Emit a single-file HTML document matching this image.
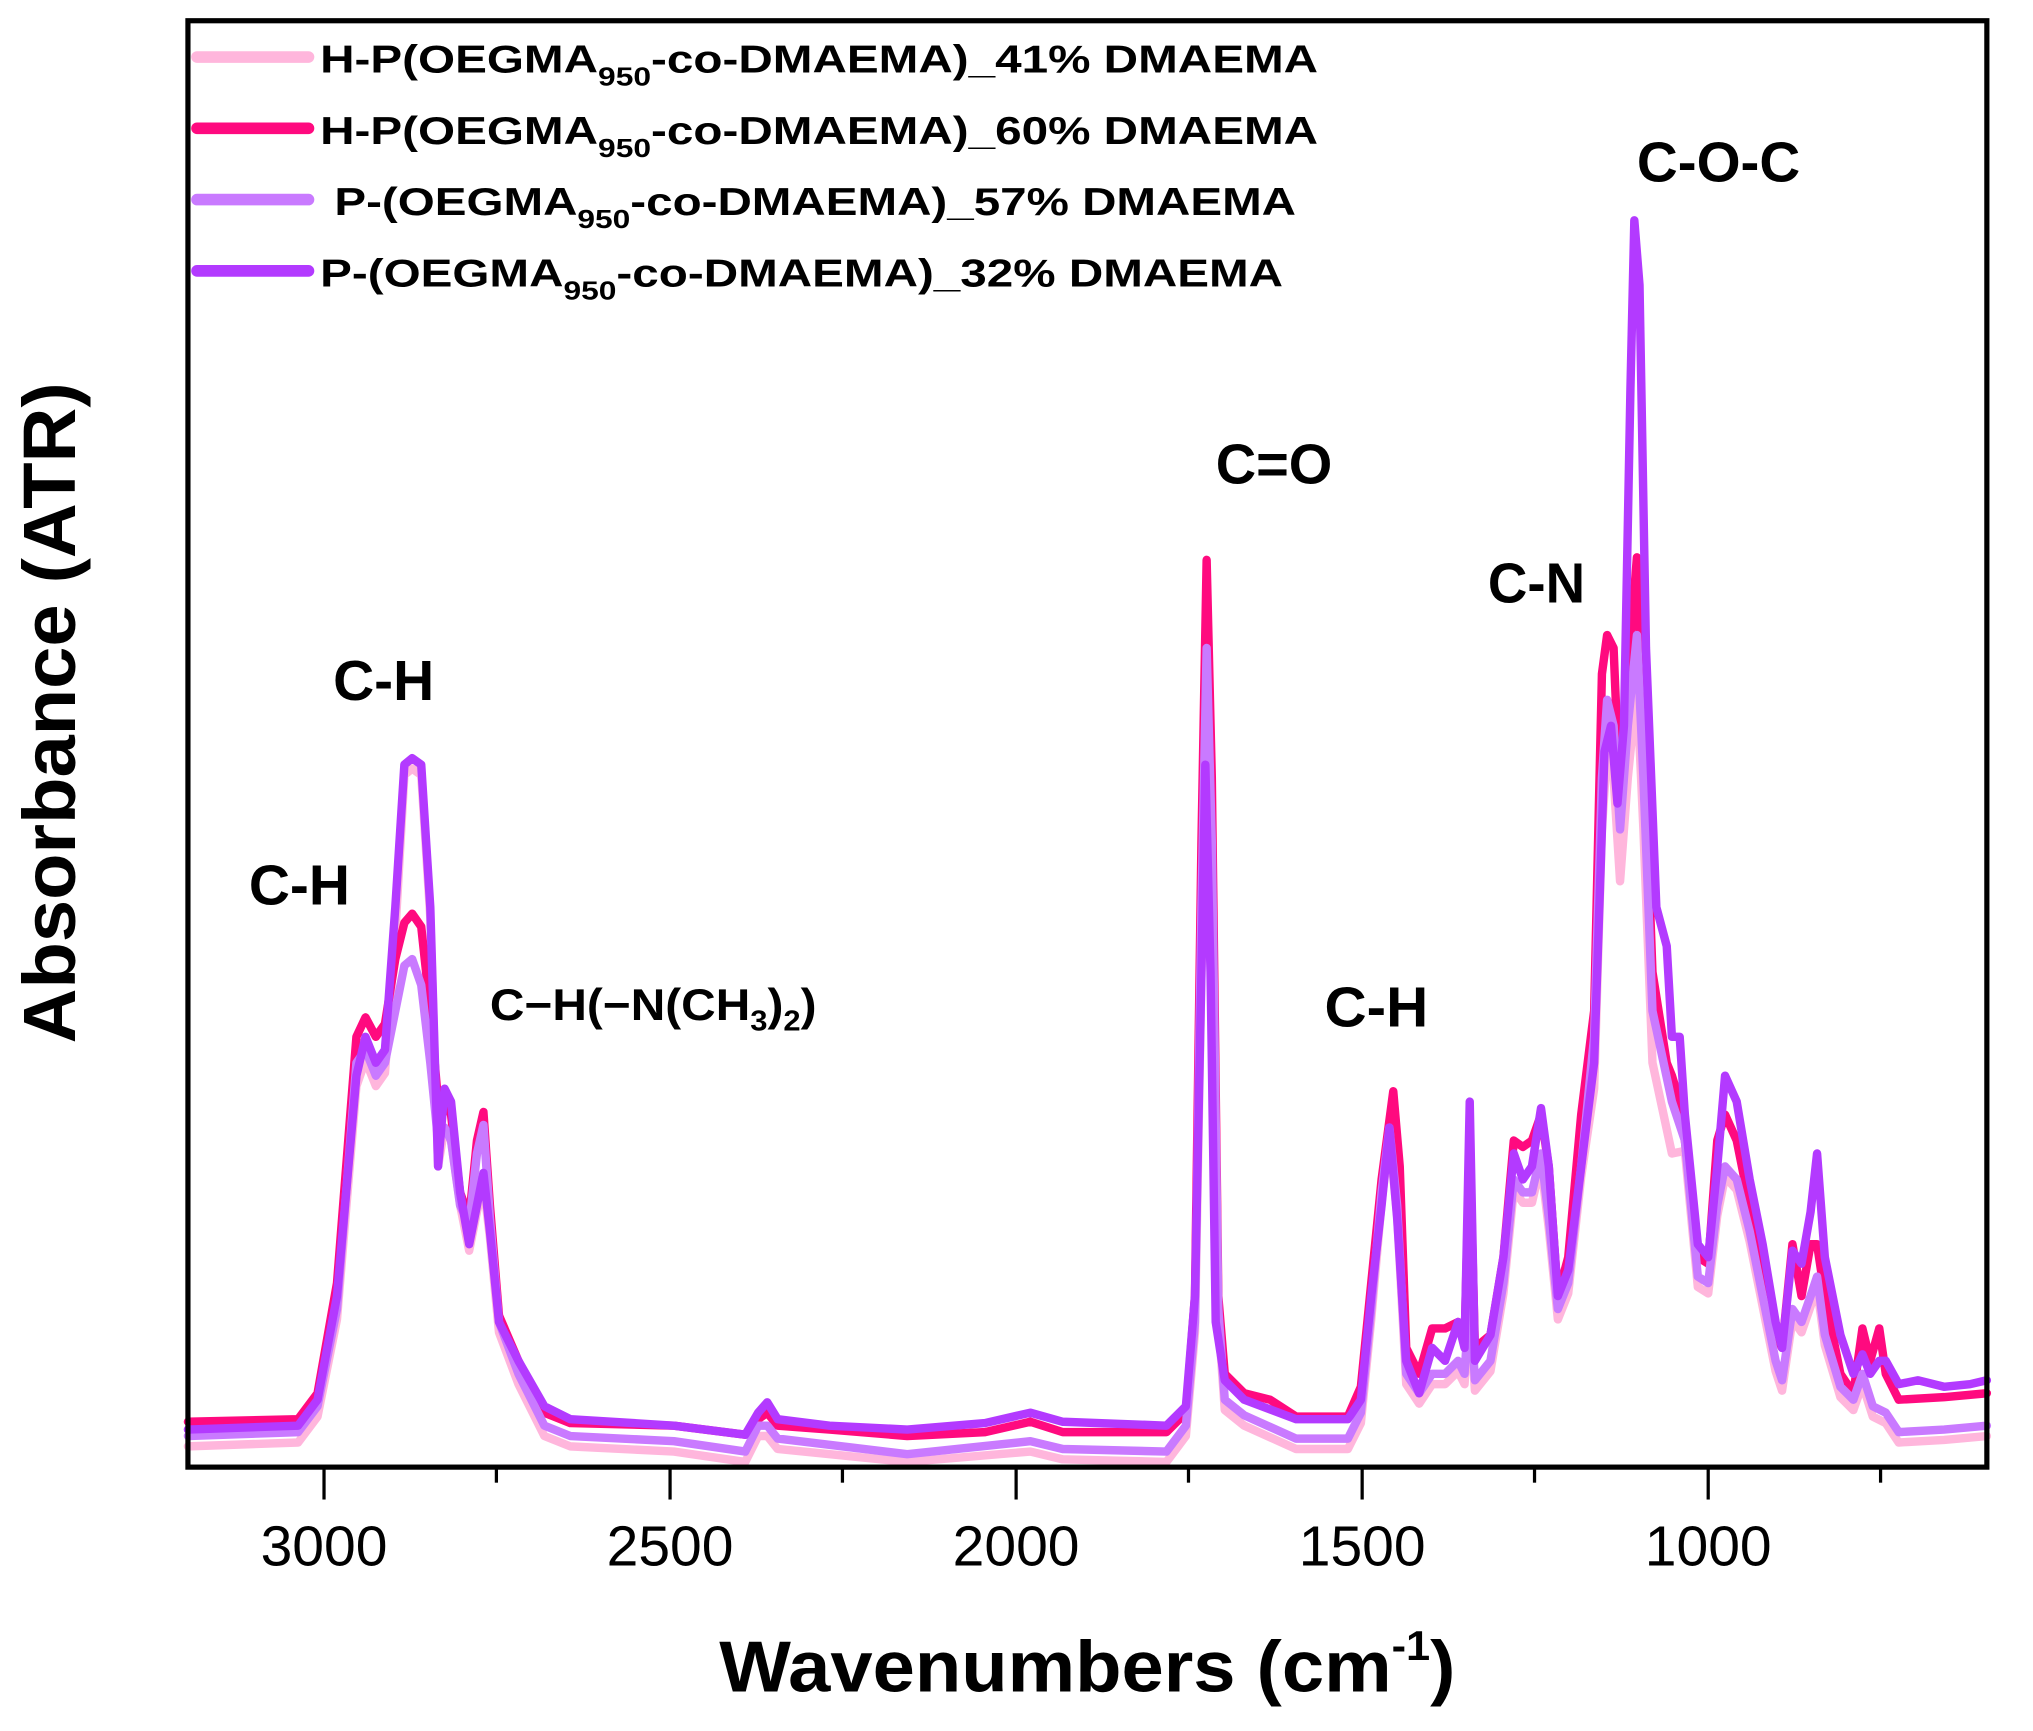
<!DOCTYPE html>
<html><head><meta charset="utf-8"><style>
html,body{margin:0;padding:0;background:#fff;}
svg{display:block;}
text{font-family:"Liberation Sans",Arial,sans-serif;}
</style></head><body>
<svg width="2033" height="1731" viewBox="0 0 1568.6 1335.6" xmlns="http://www.w3.org/2000/svg">
<rect width="1568.6" height="1335.6" fill="#fff"/>
<g fill="none" stroke-width="6.5" stroke-linejoin="round" stroke-linecap="round">
<polyline stroke="#FFB6DC" points="145,1116 230,1113 245,1093 260,1018 275,838 282,818 290,838 297,828 305,720 312,598 318,593 325,598 332,708 338,900 343,870 348,880 355,930 362,965 368,935 373,913 378,955 385,1028 400,1068 420,1108 440,1116 520,1120 575,1128 585,1108 592,1108 600,1118 700,1128 795,1120 820,1126 900,1128 915,1108 922,1028 927,750 931,600 935,700 940,1018 945,1088 960,1100 1000,1118 1040,1118 1050,1098 1058,1018 1066,928 1072,878 1078,938 1085,1068 1095,1083 1105,1068 1115,1068 1125,1058 1130,1068 1134,1008 1138,1073 1150,1058 1160,998 1168,918 1175,928 1182,928 1189,898 1195,948 1202,1018 1210,998 1220,908 1230,840 1236,640 1240,580 1245,600 1250,680 1256,600 1263,530 1268,640 1275,820 1290,890 1300,888 1310,993 1318,998 1325,938 1331,908 1340,918 1350,958 1360,1008 1370,1058 1375,1073 1383,1018 1390,1028 1397,1008 1402,993 1408,1038 1420,1078 1430,1088 1437,1068 1445,1093 1455,1098 1465,1113 1500,1111 1533,1108"/>
<polyline stroke="#FF0A7F" points="145,1097 230,1095 245,1075 260,990 275,800 282,785 290,800 297,790 305,740 312,712 318,705 325,715 332,780 338,850 343,850 348,860 355,920 362,940 368,880 373,858 378,930 385,1015 400,1050 420,1090 440,1098 520,1100 575,1107 585,1095 592,1090 600,1100 640,1103 700,1108 760,1105 795,1097 820,1105 900,1105 915,1090 922,1000 927,650 931,432 935,600 940,1000 945,1060 960,1075 980,1080 1000,1093 1040,1093 1050,1070 1058,990 1066,910 1075,842 1080,900 1085,1040 1095,1060 1105,1025 1115,1025 1125,1020 1130,1035 1134,880 1138,1040 1150,1030 1160,970 1168,880 1175,885 1182,880 1189,860 1195,900 1202,1000 1210,970 1220,860 1230,780 1236,520 1240,490 1245,500 1250,620 1256,520 1263,430 1268,560 1275,750 1286,820 1290,830 1296,850 1300,880 1310,970 1318,975 1325,880 1331,860 1340,880 1350,930 1360,980 1370,1030 1375,1040 1383,960 1390,1000 1397,960 1402,960 1408,1000 1420,1060 1430,1075 1437,1025 1443,1050 1450,1025 1455,1060 1465,1080 1500,1078 1533,1075"/>
<polyline stroke="#C97AFF" points="145,1108 230,1105 245,1085 260,1010 275,820 282,810 290,830 297,820 305,780 312,745 318,740 325,760 332,820 338,880 343,870 348,880 355,930 362,945 368,890 373,868 378,940 385,1020 400,1060 420,1100 440,1108 520,1112 575,1120 585,1100 592,1100 600,1110 700,1122 795,1112 820,1118 900,1120 915,1100 922,1020 927,700 931,500 935,650 940,1010 945,1080 960,1092 1000,1110 1040,1110 1050,1090 1058,1010 1066,920 1072,870 1078,930 1085,1060 1095,1075 1105,1060 1115,1060 1125,1050 1130,1060 1134,1000 1138,1065 1150,1050 1160,990 1168,910 1175,920 1182,920 1189,890 1195,940 1202,1010 1210,990 1220,900 1230,800 1236,600 1240,540 1245,560 1250,640 1256,560 1263,490 1268,600 1275,780 1290,850 1300,880 1310,985 1318,990 1325,930 1331,900 1340,910 1350,950 1360,1000 1370,1050 1375,1065 1383,1010 1390,1020 1397,1000 1402,985 1408,1030 1420,1070 1430,1080 1437,1060 1445,1085 1455,1090 1465,1105 1500,1103 1533,1100"/>
<polyline stroke="#B33AFF" points="145,1103 230,1100 245,1080 260,1000 275,830 282,800 290,820 297,810 305,700 312,590 318,585 325,590 332,700 338,900 343,840 348,850 355,920 362,960 368,930 373,905 378,950 385,1020 400,1050 420,1085 440,1095 520,1100 575,1107 585,1090 592,1082 600,1095 640,1100 700,1103 760,1098 795,1090 820,1097 900,1100 915,1085 922,1000 927,750 930,590 934,750 938,1020 945,1065 960,1080 1000,1095 1040,1095 1050,1080 1058,1000 1066,930 1072,870 1078,940 1085,1050 1095,1075 1105,1040 1115,1050 1125,1020 1130,1040 1134,850 1138,1050 1150,1030 1160,970 1168,890 1175,910 1182,900 1189,855 1195,900 1202,1000 1210,980 1220,900 1230,820 1238,580 1243,560 1248,620 1253,560 1258,300 1261,170 1265,220 1270,500 1278,700 1286,730 1290,800 1296,800 1300,860 1310,960 1318,970 1325,900 1331,830 1340,850 1350,910 1360,960 1370,1020 1375,1040 1383,965 1390,975 1397,935 1402,890 1408,970 1420,1030 1430,1060 1437,1045 1443,1060 1450,1050 1455,1050 1465,1068 1480,1065 1500,1070 1520,1068 1533,1065"/>
</g>
<rect x="145" y="16" width="1388" height="1116" fill="none" stroke="#000" stroke-width="4"/>
<g stroke="#000" stroke-width="2.5">
<line x1="250" y1="1132" x2="250" y2="1157"/>
<line x1="517" y1="1132" x2="517" y2="1157"/>
<line x1="784" y1="1132" x2="784" y2="1157"/>
<line x1="1051" y1="1132" x2="1051" y2="1157"/>
<line x1="1318" y1="1132" x2="1318" y2="1157"/>
<line x1="383" y1="1132" x2="383" y2="1144"/>
<line x1="650" y1="1132" x2="650" y2="1144"/>
<line x1="917" y1="1132" x2="917" y2="1144"/>
<line x1="1184" y1="1132" x2="1184" y2="1144"/>
<line x1="1451" y1="1132" x2="1451" y2="1144"/>
</g>
<g font-size="44" text-anchor="middle" fill="#000">
<text x="250" y="1208">3000</text>
<text x="517" y="1208">2500</text>
<text x="784" y="1208">2000</text>
<text x="1051" y="1208">1500</text>
<text x="1318" y="1208">1000</text>
</g>
<text x="555" y="1305" font-size="56" font-weight="bold" textLength="568" lengthAdjust="spacingAndGlyphs">Wavenumbers (cm<tspan dy="-24" font-size="32">-1</tspan><tspan dy="24">)</tspan></text>
<text transform="translate(58,805) rotate(-90)" font-size="57" font-weight="bold" textLength="510" lengthAdjust="spacingAndGlyphs">Absorbance (ATR)</text>
<g stroke-width="9" stroke-linecap="round">
<line x1="152" y1="44" x2="238" y2="44" stroke="#FFB6DC"/>
<line x1="152" y1="99" x2="238" y2="99" stroke="#FF0A7F"/>
<line x1="152" y1="154" x2="238" y2="154" stroke="#C97AFF"/>
<line x1="152" y1="209" x2="238" y2="209" stroke="#B33AFF"/>
</g>
<g font-size="30" font-weight="bold" fill="#000">
<text x="247" y="56" textLength="770" lengthAdjust="spacingAndGlyphs">H-P(OEGMA<tspan dy="10" font-size="20">950</tspan><tspan dy="-10">-co-DMAEMA)_41% DMAEMA</tspan></text>
<text x="247" y="111" textLength="770" lengthAdjust="spacingAndGlyphs">H-P(OEGMA<tspan dy="10" font-size="20">950</tspan><tspan dy="-10">-co-DMAEMA)_60% DMAEMA</tspan></text>
<text x="258" y="166" textLength="742" lengthAdjust="spacingAndGlyphs">P-(OEGMA<tspan dy="10" font-size="20">950</tspan><tspan dy="-10">-co-DMAEMA)_57% DMAEMA</tspan></text>
<text x="247" y="221" textLength="743" lengthAdjust="spacingAndGlyphs">P-(OEGMA<tspan dy="10" font-size="20">950</tspan><tspan dy="-10">-co-DMAEMA)_32% DMAEMA</tspan></text>
</g>
<g font-size="44" font-weight="bold" fill="#000">
<text x="1263" y="140" textLength="126" lengthAdjust="spacingAndGlyphs">C-O-C</text>
<text x="938" y="373" textLength="90" lengthAdjust="spacingAndGlyphs">C=O</text>
<text x="1148" y="465" textLength="75" lengthAdjust="spacingAndGlyphs">C-N</text>
<text x="257" y="540" textLength="78" lengthAdjust="spacingAndGlyphs">C-H</text>
<text x="192" y="698" textLength="78" lengthAdjust="spacingAndGlyphs">C-H</text>
<text x="1022" y="792" textLength="80" lengthAdjust="spacingAndGlyphs">C-H</text>
</g>
<text x="378" y="787" font-size="34" font-weight="bold" textLength="252" lengthAdjust="spacingAndGlyphs">C−H(−N(CH<tspan dy="8" font-size="22">3</tspan><tspan dy="-8">)</tspan><tspan dy="8" font-size="22">2</tspan><tspan dy="-8">)</tspan></text>
</svg>
</body></html>
